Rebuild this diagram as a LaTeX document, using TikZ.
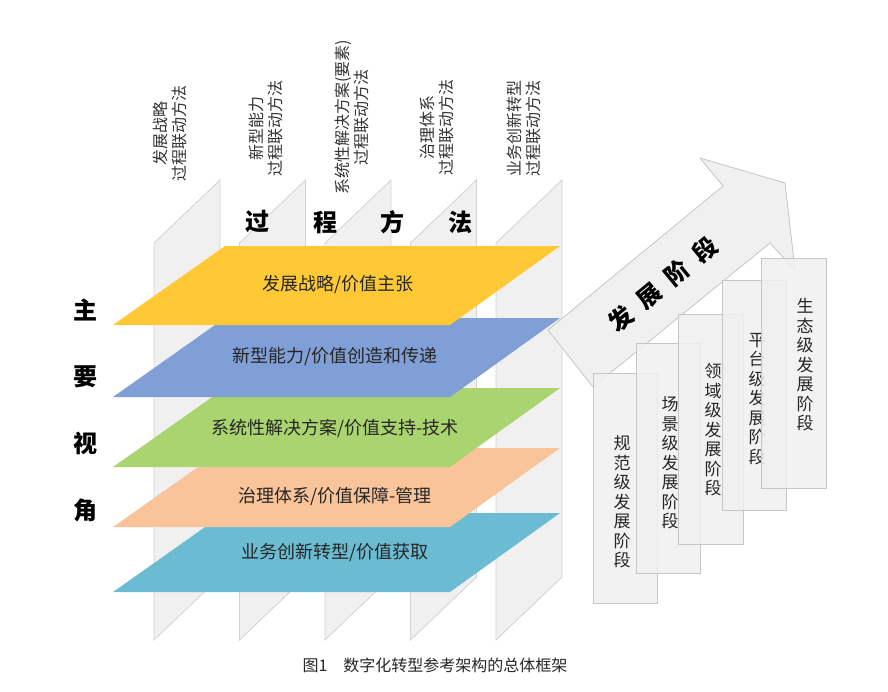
\documentclass[tikz,border=0pt]{standalone}
\usepackage{fontspec}
\setmainfont{Noto Sans CJK SC}
\begin{document}
\begin{tikzpicture}[x=1pt,y=-1pt,
 plane/.style={fill=gray!12,draw=gray!35,line width=0.8pt},
 layer/.style={draw=none},
 lt/.style={font=\fontsize{18}{20}\selectfont,text=black!85},
 toplab/.style={rotate=90,align=center,font=\fontsize{16}{19}\selectfont,text=black!80},
 big/.style={font=\fontsize{24}{26}\selectfont\bfseries},
 stage/.style={fill=gray!12,fill opacity=0.85,draw=gray!45,line width=0.8pt},
 st/.style={align=center,font=\fontsize{17}{19.5}\selectfont,text=black!85}]
\definecolor{cy}{HTML}{FFC936}\definecolor{cb}{HTML}{7F9FD6}
\definecolor{cg}{HTML}{A9D46F}\definecolor{cp}{HTML}{F9C49A}\definecolor{ct}{HTML}{6BBCD2}
\useasboundingbox (0,0) rectangle (888,691);
% vertical planes
\foreach \i in {0,...,4}{
 \draw[plane] ({154+85.5*\i},640) -- ({154+85.5*\i},243) -- ({220+85.5*\i},180) -- ({220+85.5*\i},577) -- cycle;}
% top labels
\node[toplab] (l1) at (170,133) {发展战略\\过程联动方法};
\node[toplab] (l2) at (266,128) {新型能力\\过程联动方法};
\node[toplab] (l3) at (352,117) {系统性解决方案(要素)\\过程联动方法};
\node[toplab] (l4) at (437,127) {治理体系\\过程联动方法};
\node[toplab] (l5) at (524,128) {业务创新转型\\过程联动方法};
% process method
\node[big] (p1) at (257,222) {过};
\node[big] (p2) at (325,222) {程};
\node[big] (p3) at (392,222) {方};
\node[big] (p4) at (460,222) {法};
% layers, bottom first
\foreach \t/\c in {513/ct,448/cp,388/cg,318/cb,246/cy}{
 \fill[\c] (225,\t) -- (560,\t) -- (450,\t+79) -- (113,\t+79) -- cycle;}
\node[lt] (t1) at (338,285) {发展战略/价值主张};
\node[lt] (t2) at (335,357) {新型能力/价值创造和传递};
\node[lt] (t3) at (335,428) {系统性解决方案/价值支持-技术};
\node[lt] (t4) at (335,497) {治理体系/价值保障-管理};
\node[lt] (t5) at (335,553) {业务创新转型/价值获取};
% main view
\node[big] (m1) at (85,310) {主};
\node[big] (m2) at (85,377) {要};
\node[big] (m3) at (85,443) {视};
\node[big] (m4) at (85,510) {角};
% arrow
\draw[fill=gray!12,draw=gray!45,line width=0.8pt] (548,330) -- (723,186) -- (700,158) -- (785,183) -- (795,270) -- (770,243) -- (593,387) -- cycle;
\node[big,rotate=39.5] (ar) at (663,284) {发\hspace{0.5em}展\hspace{0.5em}阶\hspace{0.5em}段};
% stages
\draw[stage] (593,373) rectangle (657,603);
\node[st] (s1) at (622,502) {规\\范\\级\\发\\展\\阶\\段};
\draw[stage] (636,343) rectangle (700,573);
\node[st] (s2) at (670,463) {场\\景\\级\\发\\展\\阶\\段};
\draw[stage] (678,314) rectangle (743,544);
\node[st] (s3) at (713,430) {领\\域\\级\\发\\展\\阶\\段};
\draw[stage] (722,280) rectangle (786,510);
\node[st] (s4) at (757,399) {平\\台\\级\\发\\展\\阶\\段};
\draw[stage] (761,258) rectangle (826,488);
\node[st] (s5) at (805,365) {生\\态\\级\\发\\展\\阶\\段};
% caption
\node[font=\fontsize{16}{18}\selectfont,text=black!85] (cap) at (435,665) {图1\quad 数字化转型参考架构的总体框架};
\end{tikzpicture}
\end{document}
